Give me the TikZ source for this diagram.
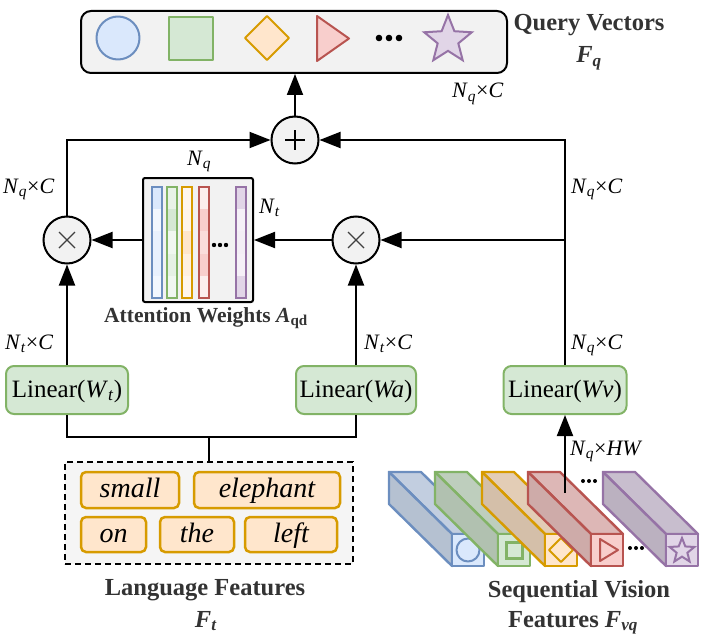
\documentclass[tikz,border=0pt]{standalone}
\usepackage{fontspec}
\setmainfont{Liberation Serif}
\usetikzlibrary{arrows.meta,shapes.geometric}
\definecolor{bF}{HTML}{DAE8FC}\definecolor{bL}{HTML}{6C8EBF}
\definecolor{gF}{HTML}{D5E8D4}\definecolor{gL}{HTML}{82B366}
\definecolor{oF}{HTML}{FFE6CC}\definecolor{oL}{HTML}{D79B00}
\definecolor{rF}{HTML}{F8CECC}\definecolor{rL}{HTML}{B85450}
\definecolor{pF}{HTML}{E1D5E7}\definecolor{pL}{HTML}{9673A6}
\definecolor{qfill}{HTML}{F2F2F2}\definecolor{langfill}{HTML}{F5F5F5}
\definecolor{labgray}{HTML}{333333}
\newcommand\dimNC[2]{\textit{N}\textsubscript{\textit{#1}}×\textit{#2}}
\newcommand\attcol[8]{%
  \foreach \kk/\pp in {0/#4,1/#5,2/#6,3/#7,4/#8}{%
    \fill[#3!\pp!white] (#1,187+\kk*22.2) rectangle (#1+10,187+\kk*22.2+22.2);}
  \draw[#2,line width=1.5pt] (#1,187) rectangle (#1+10,298);}
\newcommand\prism[3]{%
  \filldraw[draw=#2,fill=#3!89!black,line width=2.4pt,line join=round]
    (#1,472) -- (#1+32,472) -- (#1+95,534) -- (#1+63,534) -- cycle;
  \filldraw[draw=#2,fill=#3!83!black,line width=2.4pt,line join=round]
    (#1,472) -- (#1+63,534) -- (#1+63,566) -- (#1,504) -- cycle;
  \filldraw[draw=#2,fill=#3,line width=2.4pt,line join=round]
    (#1+63,534) rectangle (#1+95,566);}
\tikzset{
  conn/.style={line width=2pt},
  arr/.style={line width=2pt,-{Triangle[length=21pt,width=16pt]}},
  opnode/.style={circle,draw,line width=2pt,fill=qfill,minimum size=47pt,inner sep=0},
  linbox/.style={draw=gL,fill=gF,line width=2pt,rounded corners=8pt,minimum height=48pt,
    inner sep=0,text height=19pt,text depth=5pt,font=\fontsize{25}{28}\selectfont},
  wordbox/.style={draw=oL,fill=oF,line width=2.5pt,rounded corners=5pt,inner sep=0,
    text height=20pt,text depth=5pt,font=\fontsize{28}{30}\selectfont\itshape},
  dimlab/.style={font=\fontsize{22}{24}\selectfont,inner sep=0},
  boldlab/.style={font=\fontsize{24.5}{30}\selectfont\bfseries,text=labgray,inner sep=0},
  shp/.style={line width=2pt,line join=round},
}
\begin{document}
\begin{tikzpicture}[x=1pt,y=-1pt]
\useasboundingbox (0,0) rectangle (702,642);
% query box
\node[draw,line width=2pt,fill=qfill,rounded corners=10pt,minimum width=426pt,minimum height=62pt,inner sep=0] (qbox) at (294,42) {};
\draw[shp,draw=bL,fill=bF] (118,38) circle (21.5);
\draw[shp,draw=gL,fill=gF] (169,17) rectangle (213,60);
\draw[shp,draw=oL,fill=oF] (267,16) -- (289,38) -- (267,60) -- (245,38) -- cycle;
\draw[shp,draw=rL,fill=rF] (317,16) -- (349,38.5) -- (317,61) -- cycle;
\foreach \dx in {379,389,399}{\fill (\dx,38) circle (3.3);}
\node[star,star points=5,star point ratio=2.3,minimum size=50pt,inner sep=0,draw=pL,fill=pF,line width=2pt] (qstar) at (448,40) {};
\node[boldlab,anchor=base] (qlab) at (589,31) {Query Vectors};
\node[boldlab,anchor=base] (qF) at (589,63) {\textit{F}\textsubscript{\textit{q}}};
\node[dimlab,anchor=base west] (qdim) at (452,98) {\dimNC{q}{C}};
% operators
\node[opnode] (plus) at (295,140) {};
\draw[line width=2pt] (plus.center) ++(-10,0) -- ++(20,0);
\draw[line width=2pt] (plus.center) ++(0,-10) -- ++(0,20);
\node[opnode] (t1) at (67,240) {};
\node[opnode] (t2) at (356,240) {};
\foreach \nn in {t1,t2}{
  \draw[line width=1.3pt,black!75] (\nn.center) ++(-8,-8) -- ++(16,16);
  \draw[line width=1.3pt,black!75] (\nn.center) ++(-8,8) -- ++(16,-16);}
% attention matrix
\node[draw,line width=2pt,fill=qfill,rounded corners=2pt,minimum width=110pt,minimum height=124pt,inner sep=0] (attn) at (198,240) {};
\attcol{152}{bL}{bF}{100}{35}{60}{60}{35}
\attcol{167}{gL}{gF}{55}{100}{35}{60}{35}
\attcol{182}{oL}{oF}{35}{40}{100}{60}{35}
\attcol{199}{rL}{rF}{35}{100}{70}{100}{35}
\attcol{236}{pL}{pF}{100}{35}{40}{35}{100}
\foreach \dx in {214,220,226}{\fill (\dx,245) circle (2.2);}
\node[dimlab,anchor=base west] (nq) at (187,165) {\textit{N}\textsubscript{\textit{q}}};
\node[dimlab,anchor=base west] (nt) at (259,213) {\textit{N}\textsubscript{\textit{t}}};
\node[font=\fontsize{21.5}{24}\selectfont\bfseries,text=labgray,inner sep=0,anchor=base east] (attlab) at (308,322) {Attention Weights \textit{A}\textsubscript{qd}};
% linear boxes
\node[linbox,minimum width=122pt] (lt) at (67,390) {Linear(\textit{W}\textsubscript{\textit{t}})};
\node[linbox,minimum width=120pt] (la) at (356,390) {Linear(\textit{Wa})};
\node[linbox,minimum width=123pt] (lv) at (565,390) {Linear(\textit{Wv})};
% dimension labels
\node[dimlab,anchor=base west] (d1) at (3,193) {\dimNC{q}{C}};
\node[dimlab,anchor=base west] (d2) at (571,193) {\dimNC{q}{C}};
\node[dimlab,anchor=base west] (d3) at (5,349) {\dimNC{t}{C}};
\node[dimlab,anchor=base west] (d4) at (364,349) {\dimNC{t}{C}};
\node[dimlab,anchor=base west] (d5) at (571,349) {\dimNC{q}{C}};
\node[dimlab,anchor=base west] (d6) at (570,455) {\dimNC{q}{HW}};
% language box
\node[draw,dash pattern=on 6pt off 4pt,line width=2pt,fill=langfill,minimum width=288pt,minimum height=102pt,inner sep=0] (lang) at (209,513) {};
\node[wordbox,minimum width=98pt,minimum height=36pt] (w1) at (130,490) {small};
\node[wordbox,minimum width=146pt,minimum height=36pt] (w2) at (267,490) {elephant};
\node[wordbox,minimum width=65pt,minimum height=35pt] (w3) at (113.5,534.5) {on};
\node[wordbox,minimum width=74pt,minimum height=35pt] (w4) at (197,534.5) {the};
\node[wordbox,minimum width=92pt,minimum height=35pt] (w5) at (291,534.5) {left};
\node[boldlab,anchor=base] (langlab) at (205,595) {Language Features};
\node[boldlab,anchor=base] (langF) at (206,627) {\textit{F}\textsubscript{\textit{t}}};
% vision prisms
\prism{389}{bL}{bF}
\draw[shp,draw=bL,fill=bF] (468,550) circle (11.5);
\prism{435}{gL}{gF}
\draw[line width=3pt,draw=gL,fill=gF] (506,542) rectangle (522,558);
\prism{482}{oL}{oF}
\draw[shp,draw=oL,fill=oF] (561,538) -- (573,550) -- (561,562) -- (549,550) -- cycle;
\prism{528}{rL}{rF}
\draw[shp,draw=rL,fill=rF] (600,539) -- (618,550) -- (600,561) -- cycle;
\foreach \dx in {583,589,595}{\fill (\dx,481) circle (2);}
\foreach \dx in {630,636,642}{\fill (\dx,548) circle (2);}
\prism{603}{pL}{pF}
\node[star,star points=5,star point ratio=2.3,minimum size=26pt,inner sep=0,draw=pL,fill=pF,line width=2pt] (vstar) at (682,551) {};
\node[boldlab,anchor=base] (vlab) at (579,597) {Sequential Vision};
\node[boldlab,anchor=base] (vF) at (573,627) {Features \textit{F}\textsubscript{\textit{vq}}};
% connectors
\draw[arr] (plus.north) -- (plus.north |- qbox.south);
\draw[arr] (t1.north) |- (plus.west);
\draw[arr] (lv.north) |- (plus.east);
\coordinate (rb) at (lv.north |- t2.east);
\draw[arr] (rb) -- (t2.east);
\draw[arr] (t2.west) -- (attn.east);
\draw[arr] (attn.west) -- (t1.east);
\draw[arr] (lt.north) -- (t1.south);
\draw[arr] (la.north) -- (t2.south);
\coordinate (bj) at (209,437);
\draw[conn] (lt.south) |- (bj) -| (la.south);
\draw[conn] (bj) -- (lang.north);
\coordinate (vs) at (565,493);
\draw[arr] (vs) -- (lv.south);
\end{tikzpicture}
\end{document}
